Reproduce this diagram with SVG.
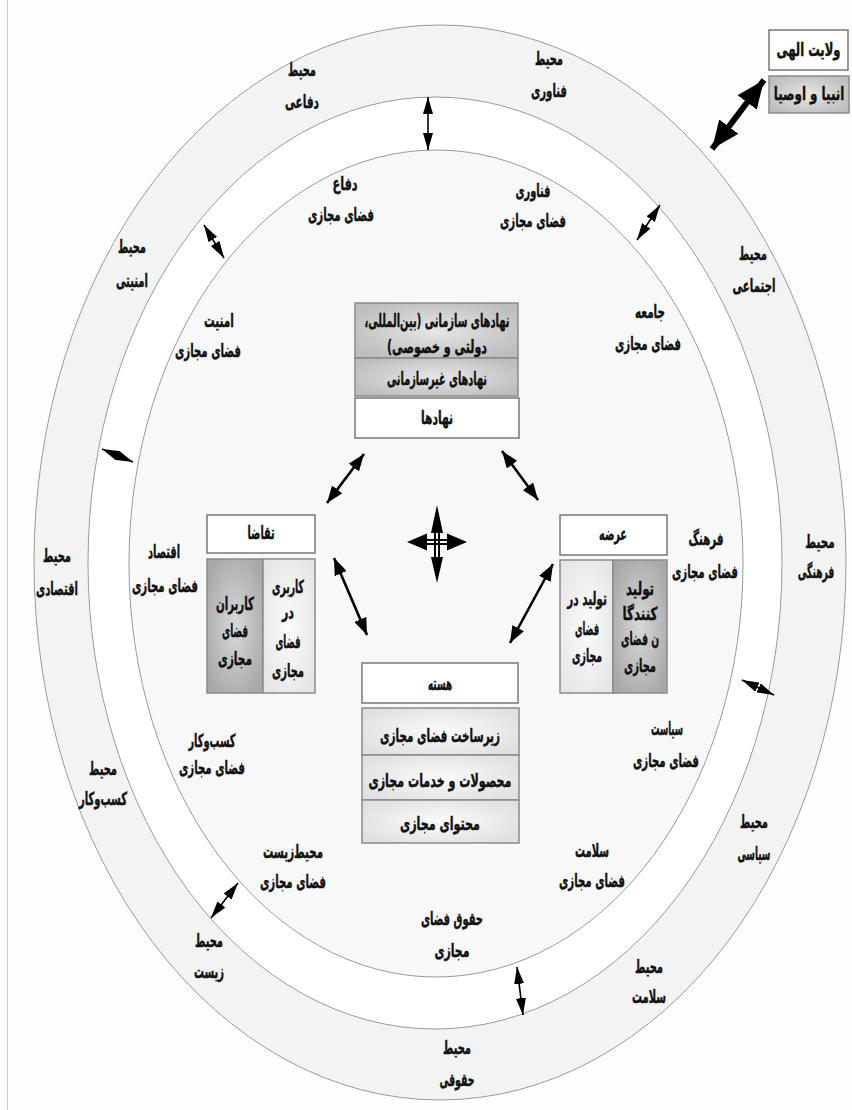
<svg xmlns="http://www.w3.org/2000/svg" width="852" height="1110" viewBox="0 0 852 1110">
<style>
text{font-family:"DejaVu Sans","Noto Sans",sans-serif;font-weight:bold;font-size:18px;fill:#111;stroke:#111;stroke-width:0.45;text-anchor:middle;direction:rtl}
.ring{stroke:#9a9a9a;stroke-width:1}
.box{stroke:#8a8a8a;stroke-width:1.5}
.wbox{fill:#fff;stroke:#777;stroke-width:1.5}
.ra{stroke:#000;stroke-width:1.6;fill:none;marker-start:url(#mr);marker-end:url(#mr)}
.ma{stroke:#000;stroke-width:2.6;fill:none;marker-start:url(#mm);marker-end:url(#mm)}
.ba{stroke:#000;stroke-width:6;fill:none;marker-start:url(#mb);marker-end:url(#mb)}
</style>
<defs>
<marker id="mr" viewBox="0 0 17 10" refX="17" refY="5" markerWidth="17" markerHeight="10" markerUnits="userSpaceOnUse" orient="auto-start-reverse"><path d="M0,0 L17,5 L0,10 z" fill="#000"/></marker>
<marker id="mm" viewBox="0 0 17 13" refX="17" refY="6.5" markerWidth="17" markerHeight="13" markerUnits="userSpaceOnUse" orient="auto-start-reverse"><path d="M0,0 L17,6.5 L0,13 z" fill="#000"/></marker>
<marker id="mb" viewBox="0 0 28 24" refX="28" refY="12" markerWidth="28" markerHeight="24" markerUnits="userSpaceOnUse" orient="auto-start-reverse"><path d="M0,0 L28,12 L0,24 z" fill="#000"/></marker>
<radialGradient id="gGray" cx="50%" cy="50%" r="60%"><stop offset="0" stop-color="#e6e6e6"/><stop offset="1" stop-color="#bdbdbd"/></radialGradient>
<radialGradient id="gDark" cx="50%" cy="50%" r="60%"><stop offset="0" stop-color="#d8d8d8"/><stop offset="1" stop-color="#a8a8a8"/></radialGradient>
<radialGradient id="gLight" cx="50%" cy="50%" r="60%"><stop offset="0" stop-color="#fbfbfb"/><stop offset="1" stop-color="#e6e6e6"/></radialGradient>
<radialGradient id="gCore" cx="50%" cy="50%" r="60%"><stop offset="0" stop-color="#fbfbfb"/><stop offset="1" stop-color="#e0e0e0"/></radialGradient>
</defs>
<rect x="0" y="0" width="852" height="1110" fill="#fdfdfd"/>
<line x1="7.5" y1="0" x2="7.5" y2="1110" stroke="#d0d0d0" stroke-width="1"/>

<g id="rings">
<ellipse class="ring" cx="440" cy="562.5" rx="406" ry="537.5" fill="#f3f3f3"/>
<ellipse class="ring" cx="435" cy="563" rx="347" ry="466" fill="#ffffff"/>
<ellipse class="ring" cx="436" cy="563.5" rx="307" ry="413.5" fill="#f8f8f8"/>
</g>

<g id="outer-labels">
<g id="env-defense"><text x="302" y="76" textLength="28" lengthAdjust="spacingAndGlyphs">محیط</text><text x="302" y="108" textLength="34" lengthAdjust="spacingAndGlyphs">دفاعی</text></g>
<g id="env-tech"><text x="549" y="65" textLength="28" lengthAdjust="spacingAndGlyphs">محیط</text><text x="549" y="97" textLength="36" lengthAdjust="spacingAndGlyphs">فناوری</text></g>
<g id="env-security"><text x="132" y="253" textLength="28" lengthAdjust="spacingAndGlyphs">محیط</text><text x="132" y="287" textLength="32" lengthAdjust="spacingAndGlyphs">امنیتی</text></g>
<g id="env-social"><text x="753" y="260" textLength="28" lengthAdjust="spacingAndGlyphs">محیط</text><text x="754" y="292" textLength="43" lengthAdjust="spacingAndGlyphs">اجتماعی</text></g>
<g id="env-economic"><text x="57" y="562" textLength="28" lengthAdjust="spacingAndGlyphs">محیط</text><text x="57" y="595" textLength="42" lengthAdjust="spacingAndGlyphs">اقتصادی</text></g>
<g id="env-cultural"><text transform="translate(820,548) scale(0.58,1)">محیط</text><text transform="translate(816,578) scale(0.51,1)">فرهنگی</text></g>
<g id="env-business"><text x="103" y="775" textLength="28" lengthAdjust="spacingAndGlyphs">محیط</text><text x="103" y="805" textLength="48" lengthAdjust="spacingAndGlyphs">کسب‌وکار</text></g>
<g id="env-political"><text x="754" y="828" textLength="28" lengthAdjust="spacingAndGlyphs">محیط</text><text x="754" y="860" textLength="33" lengthAdjust="spacingAndGlyphs">سیاسی</text></g>
<g id="env-environment"><text x="209" y="947" textLength="28" lengthAdjust="spacingAndGlyphs">محیط</text><text x="209" y="978" textLength="30" lengthAdjust="spacingAndGlyphs">زیست</text></g>
<g id="env-health"><text x="649" y="973" textLength="28" lengthAdjust="spacingAndGlyphs">محیط</text><text x="649" y="1003" textLength="34" lengthAdjust="spacingAndGlyphs">سلامت</text></g>
<g id="env-legal"><text x="457" y="1054" textLength="28" lengthAdjust="spacingAndGlyphs">محیط</text><text x="457" y="1086" textLength="35" lengthAdjust="spacingAndGlyphs">حقوقی</text></g>
</g>

<g id="inner-labels">
<g id="cs-defense"><text x="345" y="190" textLength="25" lengthAdjust="spacingAndGlyphs">دفاع</text><text x="341" y="221" textLength="66" lengthAdjust="spacingAndGlyphs">فضای مجازی</text></g>
<g id="cs-tech"><text x="533" y="197" textLength="35" lengthAdjust="spacingAndGlyphs">فناوری</text><text x="533" y="227" textLength="66" lengthAdjust="spacingAndGlyphs">فضای مجازی</text></g>
<g id="cs-security"><text x="219" y="327" textLength="30" lengthAdjust="spacingAndGlyphs">امنیت</text><text x="208" y="357" textLength="66" lengthAdjust="spacingAndGlyphs">فضای مجازی</text></g>
<g id="cs-society"><text x="650" y="318" textLength="30" lengthAdjust="spacingAndGlyphs">جامعه</text><text x="648" y="350" textLength="66" lengthAdjust="spacingAndGlyphs">فضای مجازی</text></g>
<g id="cs-economy"><text x="164" y="558" textLength="32" lengthAdjust="spacingAndGlyphs">اقتصاد</text><text x="165" y="592" textLength="66" lengthAdjust="spacingAndGlyphs">فضای مجازی</text></g>
<g id="cs-culture"><text x="706" y="545" textLength="35" lengthAdjust="spacingAndGlyphs">فرهنگ</text><text x="705" y="578" textLength="66" lengthAdjust="spacingAndGlyphs">فضای مجازی</text></g>
<g id="cs-business"><text x="212" y="747" textLength="47" lengthAdjust="spacingAndGlyphs">کسب‌وکار</text><text x="212" y="774" textLength="66" lengthAdjust="spacingAndGlyphs">فضای مجازی</text></g>
<g id="cs-politics"><text x="667" y="735" textLength="32" lengthAdjust="spacingAndGlyphs">سیاست</text><text x="666" y="767" textLength="66" lengthAdjust="spacingAndGlyphs">فضای مجازی</text></g>
<g id="cs-environment"><text x="293" y="858" textLength="60" lengthAdjust="spacingAndGlyphs">محیط‌زیست</text><text x="293" y="888" textLength="66" lengthAdjust="spacingAndGlyphs">فضای مجازی</text></g>
<g id="cs-health"><text x="592" y="857" textLength="34" lengthAdjust="spacingAndGlyphs">سلامت</text><text x="592" y="887" textLength="66" lengthAdjust="spacingAndGlyphs">فضای مجازی</text></g>
<g id="cs-law"><text x="452" y="925" textLength="62" lengthAdjust="spacingAndGlyphs">حقوق فضای</text><text x="452" y="957" textLength="35" lengthAdjust="spacingAndGlyphs">مجازی</text></g>
</g>

<g id="divine">
<rect class="wbox" x="769" y="30" width="79" height="40"/>
<text transform="translate(808.5,56) scale(0.64,1)">ولایت الهی</text>
</g>
<g id="prophets">
<rect class="box" x="769" y="76" width="80" height="37" fill="url(#gGray)"/>
<text transform="translate(809,100) scale(0.66,1)">انبیا و اوصیا</text>
</g>

<g id="institutions">
<rect class="box" x="355" y="303" width="163" height="55" fill="url(#gGray)"/>
<text x="437" y="327" textLength="145" lengthAdjust="spacingAndGlyphs">نهادهای سازمانی (بین‌المللی،</text>
<text x="437" y="353" textLength="100" lengthAdjust="spacingAndGlyphs">دولتی و خصوصی)</text>
<rect class="box" x="355" y="358" width="163" height="38" fill="url(#gGray)"/>
<text x="437" y="385" textLength="100" lengthAdjust="spacingAndGlyphs">نهادهای غیرسازمانی</text>
<rect class="wbox" x="355" y="398" width="164" height="40"/>
<text x="437" y="424" textLength="32" lengthAdjust="spacingAndGlyphs">نهادها</text>
</g>

<g id="demand">
<rect class="wbox" x="207" y="515" width="108" height="38"/>
<text x="261" y="539" textLength="27" lengthAdjust="spacingAndGlyphs">تقاضا</text>
<rect class="box" x="207" y="559" width="56" height="134" fill="url(#gDark)"/>
<rect class="box" x="263" y="559" width="52" height="134" fill="url(#gLight)"/>
<text x="235" y="610" textLength="38" lengthAdjust="spacingAndGlyphs">کاربران</text>
<text x="235" y="637" textLength="26" lengthAdjust="spacingAndGlyphs">فضای</text>
<text x="235" y="665" textLength="34" lengthAdjust="spacingAndGlyphs">مجازی</text>
<text x="288" y="593" textLength="32" lengthAdjust="spacingAndGlyphs">کاربری</text>
<text x="288" y="618" textLength="12" lengthAdjust="spacingAndGlyphs">در</text>
<text x="288" y="648" textLength="25" lengthAdjust="spacingAndGlyphs">فضای</text>
<text x="288" y="677" textLength="32" lengthAdjust="spacingAndGlyphs">مجازی</text>
</g>

<g id="supply">
<rect class="wbox" x="560" y="515" width="107" height="40"/>
<text x="613" y="540" textLength="28" lengthAdjust="spacingAndGlyphs">عرضه</text>
<rect class="box" x="560" y="560" width="53" height="133" fill="url(#gLight)"/>
<rect class="box" x="613" y="560" width="54" height="133" fill="url(#gDark)"/>
<text transform="translate(587,605) scale(0.58,1)">تولید در</text>
<text x="587" y="635" textLength="24" lengthAdjust="spacingAndGlyphs">فضای</text>
<text x="587" y="662" textLength="30" lengthAdjust="spacingAndGlyphs">مجازی</text>
<text transform="translate(640,595) scale(0.66,1)">تولید</text>
<text x="640" y="620" textLength="35" lengthAdjust="spacingAndGlyphs">کنندگا</text>
<text x="640" y="645" textLength="38" lengthAdjust="spacingAndGlyphs">ن فضای</text>
<text x="640" y="672" textLength="32" lengthAdjust="spacingAndGlyphs">مجازی</text>
</g>

<g id="core">
<rect class="wbox" x="362" y="663" width="156" height="40"/>
<text x="440" y="690" textLength="24" lengthAdjust="spacingAndGlyphs">هسته</text>
<rect class="box" x="362" y="708" width="157" height="47" fill="url(#gCore)"/>
<text x="440" y="742" textLength="120" lengthAdjust="spacingAndGlyphs">زیرساخت فضای مجازی</text>
<rect class="box" x="362" y="755" width="157" height="45" fill="url(#gCore)"/>
<text x="440" y="787" textLength="143" lengthAdjust="spacingAndGlyphs">محصولات و خدمات مجازی</text>
<rect class="box" x="362" y="800" width="157" height="43" fill="url(#gCore)"/>
<text x="440" y="830" textLength="80" lengthAdjust="spacingAndGlyphs">محتوای مجازی</text>
</g>

<g id="connectors">
<line class="ba" x1="764" y1="80" x2="712" y2="149"/>
<line class="ma" x1="327" y1="503" x2="364" y2="454"/>
<line class="ma" x1="502" y1="451" x2="538" y2="500"/>
<line class="ma" x1="334" y1="558" x2="367" y2="635"/>
<line class="ma" x1="553" y1="564" x2="510" y2="643"/>
<line class="ra" x1="428" y1="97" x2="428" y2="150"/>
<line class="ra" x1="204" y1="225" x2="224" y2="258"/>
<line class="ra" x1="660" y1="205" x2="637" y2="240"/>
<line class="ra" x1="102" y1="449" x2="133" y2="462"/>
<line class="ra" x1="742" y1="680" x2="774" y2="695"/>
<line class="ra" x1="238" y1="883" x2="211" y2="918"/>
<line class="ra" x1="517" y1="967" x2="523" y2="1015"/>
<g id="cross">
<polygon points="431,533 437,505 443,533"/>
<polygon points="431,557 437,583 443,557"/>
<polygon points="427,533.5 407,542 427,550.5"/>
<polygon points="447,533.5 467,542 447,550.5"/>
<path d="M435,533V557M439,533V557M427,540H447M427,544H447" stroke="#000" stroke-width="2" fill="none"/>
</g>
</g>
</svg>
